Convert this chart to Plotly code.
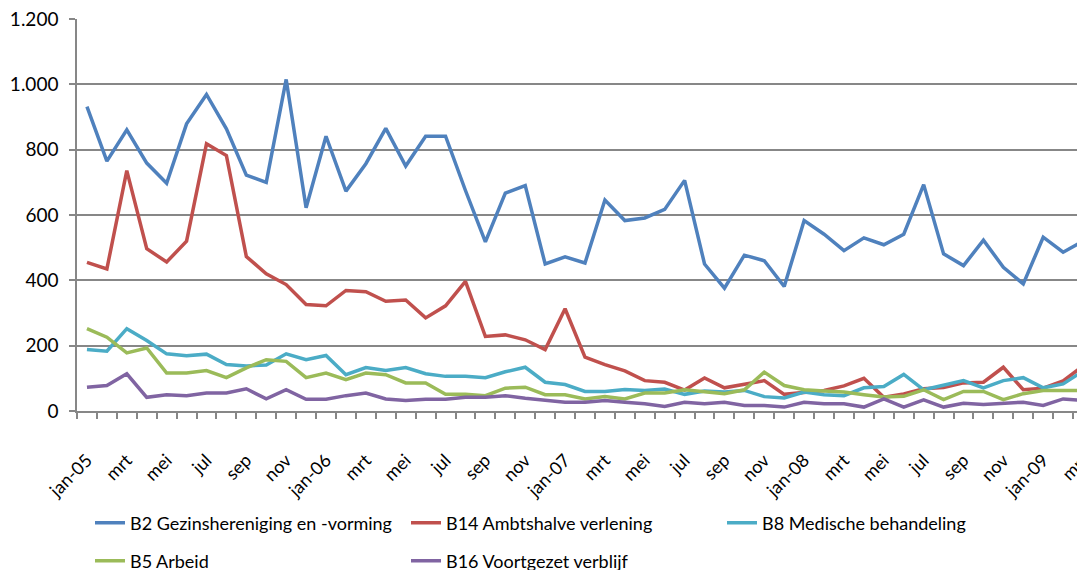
import plotly.graph_objects as go

months = ["jan", "feb", "mrt", "apr", "mei", "jun", "jul", "aug", "sep", "okt", "nov", "dec"]
years = ["05", "06", "07", "08", "09"]
categories = [f"{m}-{y}" for y in years for m in months][:51]

# tick labels shown every second month
tick_labels = ["jan-05", "mrt", "mei", "jul", "sep", "nov",
               "jan-06", "mrt", "mei", "jul", "sep", "nov",
               "jan-07", "mrt", "mei", "jul", "sep", "nov",
               "jan-08", "mrt", "mei", "jul", "sep", "nov",
               "jan-09", "mrt"]

b2 = [932, 765, 861, 759, 697, 879, 969, 864, 722, 700, 1015, 622,
      841, 673, 757, 865, 750, 841, 841, 675, 518, 667, 690, 450,
      472, 453, 646, 583, 591, 617, 706, 450, 376, 477, 460, 381,
      583, 541, 491, 530, 509, 541, 693, 481, 445, 523, 440, 389,
      532, 486, 520]
b14 = [455, 435, 736, 497, 456, 520, 818, 782, 473, 420, 387, 326,
       322, 369, 365, 336, 340, 285, 322, 397, 228, 233, 218, 188,
       313, 165, 142, 123, 93, 88, 64, 101, 71, 82, 93, 51,
       58, 63, 77, 100, 42, 52, 68, 72, 86, 88, 134, 65,
       70, 92, 138]
b8 = [188, 183, 252, 216, 175, 169, 174, 142, 138, 141, 175, 157,
      170, 111, 133, 124, 133, 114, 106, 106, 102, 120, 134, 88,
      81, 60, 60, 66, 63, 67, 51, 61, 58, 63, 44, 40,
      58, 50, 47, 71, 75, 112, 65, 78, 93, 71, 93, 102,
      71, 83, 122]
b5 = [252, 226, 178, 193, 116, 116, 124, 102, 132, 157, 152, 102,
      116, 96, 116, 111, 86, 86, 51, 51, 47, 70, 73, 50,
      50, 37, 44, 37, 55, 55, 65, 58, 53, 65, 119, 78,
      65, 61, 58, 50, 43, 45, 65, 35, 60, 60, 35, 53,
      63, 63, 63]
b16 = [73, 78, 114, 42, 50, 47, 55, 55, 68, 37, 65, 36,
       36, 47, 55, 37, 32, 36, 36, 42, 42, 47, 39, 32,
       27, 27, 32, 27, 22, 14, 27, 22, 27, 17, 17, 12,
       27, 22, 22, 12, 37, 12, 34, 12, 24, 20, 24, 27,
       17, 37, 32]

series = [
    ("B2 Gezinshereniging en -vorming", b2, "#4F81BD", "legend"),
    ("B14 Ambtshalve verlening", b14, "#C0504D", "legend"),
    ("B8 Medische behandeling", b8, "#4BACC6", "legend"),
    ("B5 Arbeid", b5, "#9BBB59", "legend2"),
    ("B16 Voortgezet verblijf", b16, "#8064A2", "legend2"),
]

x = list(range(len(categories)))
FONT = "Lato"
GRID = "#878787"

fig = go.Figure()
for name, vals, color, leg in series:
    fig.add_trace(go.Scatter(
        x=x, y=vals, name=name, mode="lines",
        line=dict(color=color, width=3.5),
        customdata=categories, hovertemplate="%{customdata}: %{y}<extra>" + name + "</extra>",
        legend=leg,
    ))

legend_common = dict(
    orientation="h", xref="container", yref="container",
    xanchor="left", yanchor="middle",
    entrywidth=271, entrywidthmode="pixels",
    font=dict(family=FONT, size=18, color="#000000"),
    bgcolor="rgba(0,0,0,0)", borderwidth=0,
    itemwidth=30, tracegroupgap=0,
)

# the page body adds an 8px offset, so figure coordinates are 8px less than the target picture
fig.update_layout(
    width=1085, height=570,
    margin=dict(l=69, r=0, t=11, b=167, autoexpand=False),
    paper_bgcolor="white", plot_bgcolor="white",
    separators=",.",
    font=dict(family=FONT, size=18, color="#000000"),
    showlegend=True,
    legend=dict(x=82 / 1085, y=1 - 515 / 570, **legend_common),
    legend2=dict(x=82 / 1085, y=1 - 553 / 570, **legend_common),
    xaxis=dict(
        range=[-0.5, 50.5],
        tickmode="array",
        tickvals=x[::2],
        ticktext=tick_labels,
        tickangle=-45,
        ticks="",
        ticklabelstandoff=30,
        ticklabeloverflow="allow",
        automargin=False,
        showgrid=False,
        zeroline=False,
        showline=True, linecolor=GRID, linewidth=1.5,
        minor=dict(tickmode="linear", tick0=-0.5, dtick=1, ticks="outside",
                   ticklen=6, tickcolor=GRID, tickwidth=1.5, showgrid=False),
        tickfont=dict(family=FONT, size=18, color="#000000"),
    ),
    yaxis=dict(
        range=[0, 1200],
        tickmode="array",
        tickvals=[0, 200, 400, 600, 800, 1000, 1200],
        tickformat=",d",
        ticks="outside", ticklen=6, tickcolor=GRID, tickwidth=1.5,
        ticklabelstandoff=7,
        ticklabeloverflow="allow",
        automargin=False,
        showgrid=True, gridcolor=GRID, gridwidth=1.5,
        zeroline=False,
        showline=True, linecolor=GRID, linewidth=1.5,
        tickfont=dict(family=FONT, size=19, color="#000000"),
    ),
)

fig.write_html("out.html")
